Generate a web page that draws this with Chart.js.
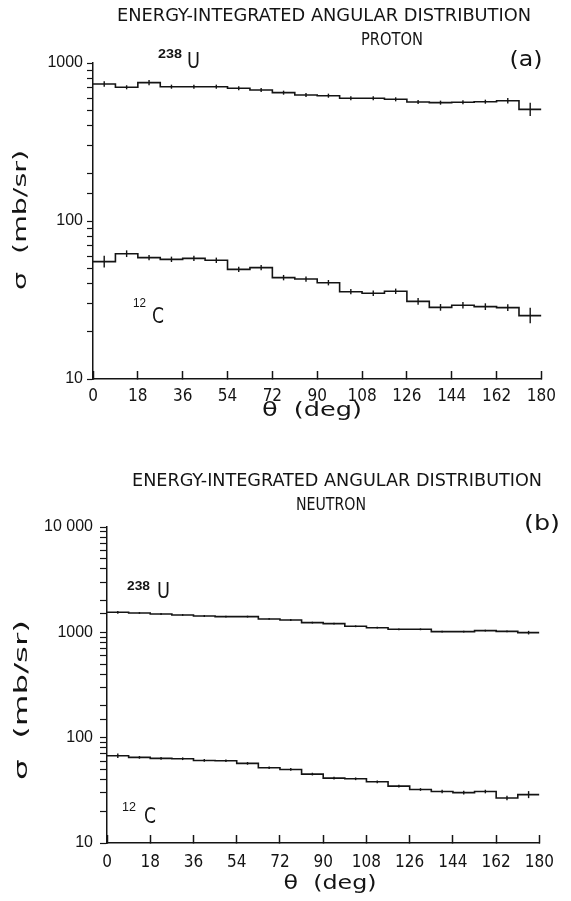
<!DOCTYPE html>
<html><head><meta charset="utf-8">
<script src="https://cdn.jsdelivr.net/npm/chart.js@4.4.1/dist/chart.umd.min.js"></script>
<style>
html,body{margin:0;padding:0;background:#fff;}
#wrap{position:relative;width:571px;height:901px;overflow:hidden;}
canvas{position:absolute;left:0;}
</style></head><body>
<div id="wrap">
<canvas id="ca" width="571" height="450" style="top:0"></canvas>
<canvas id="cb" width="571" height="451" style="top:450px"></canvas>
</div>
<script>
// ---------- data ----------
const binEdges   = [0,9,18,27,36,45,54,63,72,81,90,99,108,117,126,135,144,153,162,171,180];
const binCenters = [4.5,13.5,22.5,31.5,40.5,49.5,58.5,67.5,76.5,85.5,94.5,103.5,112.5,121.5,130.5,139.5,148.5,157.5,166.5,175.5];
const angleTicks = [0,18,36,54,72,90,108,126,144,162,180];

const protonU238  = [736,702,751,708,708,708,692,675,649,627,621,598,598,589,567,561,564,569,577,509];
const protonC12   = [55.3,62.1,58.6,57.2,58.0,56.4,49.4,50.7,43.8,42.9,40.7,35.7,34.9,35.9,31.0,28.4,29.3,28.7,28.3,25.2];
const neutronU238 = [1550,1527,1493,1462,1429,1410,1410,1340,1310,1236,1210,1141,1107,1068,1068,1015,1015,1038,1022,993];
const neutronC12  = [67.4,65.0,63.6,63.1,60.8,60.4,57.0,51.8,49.9,45.1,41.3,40.7,38.1,34.7,32.2,30.8,30.1,30.8,26.7,28.8];

// relative statistical errors (fraction)
const protonU238Err  = [0.04,0.03,0.04,0.03,0.03,0.03,0.03,0.03,0.03,0.03,0.03,0.03,0.03,0.03,0.03,0.03,0.03,0.03,0.04,0.10];
const protonC12Err   = [0.09,0.05,0.04,0.04,0.04,0.04,0.04,0.04,0.04,0.04,0.04,0.04,0.04,0.04,0.05,0.05,0.05,0.05,0.05,0.12];
const neutronU238Err = [0.03,0.02,0.02,0.02,0.02,0.02,0.02,0.02,0.02,0.02,0.02,0.02,0.02,0.02,0.02,0.02,0.02,0.02,0.02,0.04];
const neutronC12Err  = [0.05,0.03,0.03,0.03,0.03,0.03,0.03,0.03,0.03,0.03,0.03,0.03,0.03,0.03,0.03,0.04,0.04,0.04,0.05,0.08];

const yTickValuesA = [10,100,1000];
const yTickLabelsA = ['10','100','1000'];
const yTickValuesB = [10,100,1000,10000];
const yTickLabelsB = ['10','100','1000','10 000'];

// ---------- drawing helpers ----------
const INK = '#141414';
const NARROW = '"DejaVu Sans Condensed","Liberation Sans Narrow","Liberation Sans",sans-serif';
const SANS = '"Liberation Sans",Arial,sans-serif';

function stepSet(vals, errs){
  return {
    data: binEdges.map((x,i)=>({x:x, y: vals[Math.min(i, vals.length-1)]})),
    stepped: true, borderColor: INK, borderWidth: 1.6, pointRadius: 0, fill: false,
    errCenters: binCenters, errVals: vals, errRel: errs
  };
}

const errPlugin = {
  id: 'errbars',
  afterDatasetsDraw(chart){
    const ctx = chart.ctx, xs = chart.scales.x, ys = chart.scales.y;
    ctx.save(); ctx.strokeStyle = INK; ctx.lineWidth = 1.4;
    chart.data.datasets.forEach(ds=>{
      ds.errVals.forEach((v,i)=>{
        const px = xs.getPixelForValue(ds.errCenters[i]);
        const e = ds.errRel[i];
        ctx.beginPath();
        ctx.moveTo(px, ys.getPixelForValue(v*(1+e)));
        ctx.lineTo(px, ys.getPixelForValue(v/(1+e)));
        ctx.stroke();
      });
    });
    ctx.restore();
  }
};

function txt(ctx, s, x, y, o){
  ctx.save();
  ctx.font = o.font; ctx.fillStyle = INK; ctx.textBaseline = 'middle';
  ctx.translate(x, y);
  if (o.rot) ctx.rotate(o.rot);
  let sx = 1;
  if (o.w) sx = o.w / ctx.measureText(s).width;
  ctx.scale(sx, 1);
  ctx.textAlign = o.align || 'center';
  ctx.fillText(s, 0, 0);
  ctx.restore();
}

function textPlugin(items){
  return { id:'texts', afterDraw(chart){ items.forEach(it=>txt(chart.ctx, it[0], it[1], it[2], it[3])); } };
}

function makeChart(id, cfg){
  const majorLabel = (v)=>{
    const i = cfg.yVals.findIndex(t=>Math.abs(t - v) < 1e-6*t);
    return i >= 0 ? cfg.yLabels[i] : '';
  };
  return new Chart(document.getElementById(id), {
    type: 'line',
    data: { datasets: cfg.datasets },
    options: {
      responsive: false, animation: false, events: [],
      layout: { padding: { left: 0, right: cfg.padRight, top: cfg.padTop, bottom: 0 } },
      plugins: { legend: {display:false}, tooltip: {enabled:false}, title:{display:false} },
      scales: {
        x: {
          type: 'linear', min: 0, max: 180, position: 'bottom',
          afterBuildTicks: s => { s.ticks = angleTicks.map(v=>({value:v})); },
          afterFit: s => { s.height = cfg.xHeight; },
          ticks: { autoSkip:false, maxRotation:0, color: INK, padding: cfg.xPad,
                   font: { family: NARROW, size: 17 } },
          grid: { drawOnChartArea:false, drawTicks:true, tickLength:-8, color: INK, tickColor: INK, tickWidth: 1.5 },
          border: { display:true, color: INK, width: 1.5 }
        },
        y: {
          type: 'logarithmic', min: 10, max: cfg.yMax, position: 'left',
          afterFit: s => { s.width = cfg.yWidth; },
          ticks: { autoSkip:false, color: INK, padding: cfg.yPad, callback: majorLabel,
                   font: { family: SANS, size: 16 } },
          grid: { drawOnChartArea:false, drawTicks:true, tickLength: cfg.yTick, color: INK, tickColor: INK, tickWidth: 1.2 },
          border: { display:true, color: INK, width: 1.5 }
        }
      }
    },
    plugins: [errPlugin, textPlugin(cfg.texts)]
  });
}

// ---------- panel (a): proton ----------
makeChart('ca', {
  datasets: [stepSet(protonU238, protonU238Err), stepSet(protonC12, protonC12Err)],
  yMax: 1000, yVals: yTickValuesA, yLabels: yTickLabelsA,
  padTop: 63, padRight: 571-547, xHeight: 450-379, yWidth: 93, yPad: 4, yTick: 6, xPad: 15,
  texts: [
    ['ENERGY-INTEGRATED ANGULAR DISTRIBUTION', 324, 16, {font:'18px '+NARROW, w:414}],
    ['PROTON', 392, 40, {font:'18px '+NARROW, w:62}],
    ['(a)', 526, 60, {font:'22px '+NARROW, w:33}],
    ['238', 158, 54, {font:'bold 13px '+SANS, w:24, align:'left'}],
    ['U', 187, 63, {font:'21px '+NARROW, w:13, align:'left'}],
    ['12', 133, 303, {font:'13px '+SANS, w:13, align:'left'}],
    ['C', 152, 317, {font:'22px '+NARROW, w:12, align:'left'}],
    ['\u03C3  (mb/sr)', 21, 220, {font:'18px '+NARROW, w:140, rot:-Math.PI/2}],
    ['\u03B8  (deg)', 312, 411, {font:'19px '+NARROW, w:100}]
  ]
});

// ---------- panel (b): neutron ----------
makeChart('cb', {
  datasets: [stepSet(neutronU238, neutronU238Err), stepSet(neutronC12, neutronC12Err)],
  yMax: 10000, yVals: yTickValuesB, yLabels: yTickLabelsB,
  padTop: 527-450, padRight: 571-558, xHeight: 451-(843-450), yWidth: 107, yPad: 7, yTick: 7, xPad: 17,
  texts: [
    ['ENERGY-INTEGRATED ANGULAR DISTRIBUTION', 337, 31, {font:'18px '+NARROW, w:410}],
    ['NEUTRON', 331, 55, {font:'18px '+NARROW, w:70}],
    ['(b)', 542, 74, {font:'22px '+NARROW, w:36}],
    ['238', 127, 136, {font:'bold 13px '+SANS, w:23, align:'left'}],
    ['U', 157, 143, {font:'21px '+NARROW, w:13, align:'left'}],
    ['12', 122, 357, {font:'13px '+SANS, w:14, align:'left'}],
    ['C', 144, 367, {font:'22px '+NARROW, w:12, align:'left'}],
    ['\u03C3  (mb/sr)', 22, 250, {font:'18px '+NARROW, w:160, rot:-Math.PI/2}],
    ['\u03B8  (deg)', 330, 434, {font:'19px '+NARROW, w:93}]
  ]
});
</script>
</body></html>
